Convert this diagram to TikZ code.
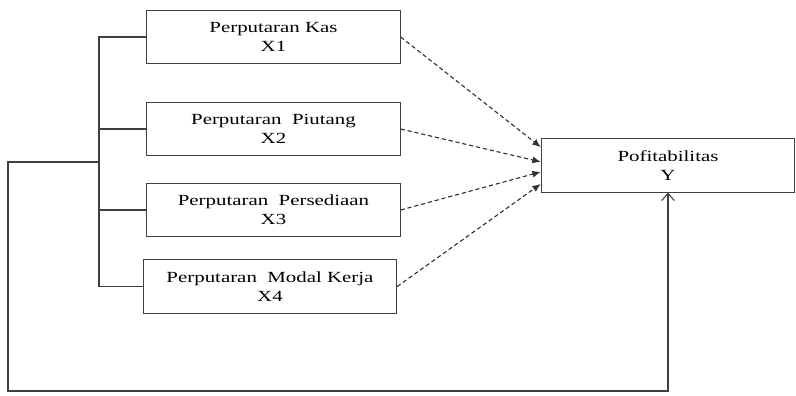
\documentclass[tikz,border=0pt]{standalone}
\usepackage{fontspec}
\setmainfont{Liberation Serif}[FakeStretch=1.35]
\usetikzlibrary{arrows.meta}

\begin{document}
\begin{tikzpicture}[x=0.025cm, y=-0.025cm, line width=0.8pt,
    font=\fontsize{11}{13.5}\selectfont,
    var/.style={draw=black!75, minimum width=6.33cm, minimum height=1.33cm,
      align=center, inner sep=0pt},
    link/.style={black!80, dash pattern=on 3pt off 2pt,
      -{Latex[length=6pt,width=5pt]}}]
  \useasboundingbox (0,0) rectangle (796,395);
  % X1..X4 stacked on the left, Y on the right (units are pixels)
  \node[var] (x1) at (273.5,37)  {Perputaran Kas\\X1};
  \node[var] (x2) at (273.5,129) {Perputaran\ \ Piutang\\X2};
  \node[var] (x3) at (273.5,210) {Perputaran\ \ Persediaan\\X3};
  \node[var] (x4) at (270,286.5) {Perputaran\ \ Modal Kerja\\X4};
  \node[var] (y)  at (668,165.5) {Pofitabilitas\\Y};
  % bracket joining the four variables
  \coordinate (bus) at (99,162);
  \coordinate (corner) at (8,391);
  \draw[black!75] (x1.west) -| (bus) |- (x4.west);
  \draw[black!75] (x2.west) -- (x2.west -| bus);
  \draw[black!75] (x3.west) -- (x3.west -| bus);
  % joint effect on Y
  \draw[black!75, -{Straight Barb[length=5pt,width=9pt]}]
    (bus) -| (corner) -| (y.south);
  % partial effects
  \draw[link] (x1.east) -- ([yshift=0.46cm]y.west);
  \draw[link] (x2.east) -- ([yshift=0.09cm]y.west);
  \draw[link] (x3.east) -- ([yshift=-0.16cm]y.west);
  \draw[link] (x4.east) -- ([yshift=-0.46cm]y.west);
\end{tikzpicture}
\end{document}
